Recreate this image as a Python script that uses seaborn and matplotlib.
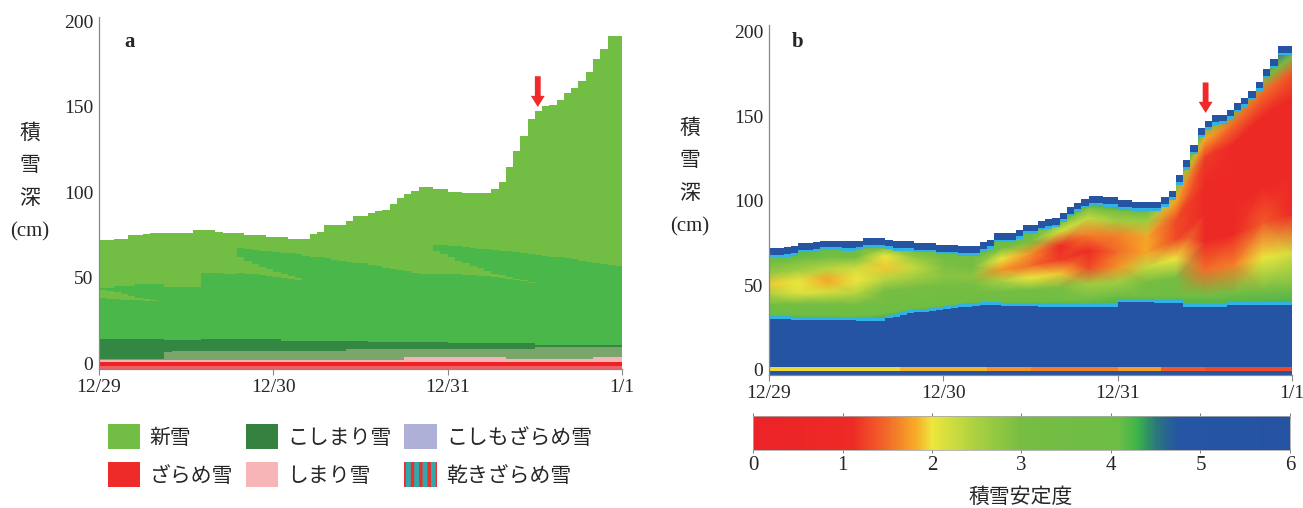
import numpy as np
import matplotlib
matplotlib.use("Agg")
import matplotlib.pyplot as plt
from matplotlib.colors import LinearSegmentedColormap, Normalize
from matplotlib.cm import ScalarMappable
from matplotlib.patches import Patch
import seaborn as sns

sns.set_style("ticks")
plt.rcParams['font.family'] = ['Liberation Serif', 'Noto Sans CJK JP']
plt.rcParams['hatch.linewidth'] = 2.5

hours = np.arange(73)
day_ticks = [0, 24, 48, 72]
day_labels = ['12/29', '12/30', '12/31', '1/1']

# total snow depth (cm), one value per hour from 12/29 0h
depth = [72, 72, 72.5, 73, 75, 75, 75.5, 76.5, 76.5, 76.5,
         76, 76, 76.5, 78, 78, 78, 77, 76, 76, 76,
         75, 75, 75, 74, 74, 74, 73, 73, 73, 75.5,
         77, 81, 81, 81, 83, 86, 86, 88, 89, 90,
         93, 96.5, 99, 101, 103, 103, 102, 102, 100.5, 100.5,
         99.5, 99.5, 99.5, 99.5, 102, 106, 115, 124, 133, 143,
         147.5, 150.5, 151, 154, 158, 161, 165, 170.5, 178, 184,
         191.5, 191.5]

# panel a: top of the older (medium green) snow
old_top = [44, 44, 45.5, 45.5, 45.5, 46.5, 46.5, 46.5, 46.5, 44.5,
           44.5, 44.5, 44.5, 44.5, 53, 53, 53, 52.5, 52.5, 67.5,
           67, 66.5, 66, 65.5, 65, 64.5, 64.5, 64, 63, 62.5,
           62, 61.5, 60.5, 60, 59.5, 59, 58.5, 57.5, 57, 56,
           55, 54.5, 54, 53, 52.5, 52, 69.5, 69, 68.5, 68.5,
           68, 67.5, 67, 67, 66.5, 66, 65.5, 65, 64.5, 64,
           63.5, 63, 62.5, 62, 61.5, 61, 60, 59.5, 59, 58,
           57.5, 57]

# new-snow wedges buried inside the older snow: (start hour, bottom, top)
wedges = [
    (0, [38, 37.8, 37.5, 37.2, 37, 36.8, 36.5, 36.3],
        [43, 42.5, 41.5, 40.5, 39.5, 38.5, 37.7, 37]),
    (19, [53, 52.5, 52, 51.5, 51, 50.5, 50, 49.5, 49],
         [62, 60, 58, 56.5, 55, 53.5, 52, 51, 50]),
    (46, [52.5, 52.5, 52, 52, 51.5, 51.5, 51, 51, 50.5, 50, 49.5, 49, 48, 47],
         [66, 64, 62, 60, 58.5, 57, 55.5, 54, 52.5, 51.5, 50.5, 49.5, 48.5, 47.5]),
]

# lower layers as (value, number of hours)
dark_vals = [14, 13.7, 14.2, 13.3, 12.7, 11.8, 10.5]
dark_runs = [9, 5, 11, 12, 11, 12, 12]
gray_vals = [2.8, 6.8, 7.2, 8.2, 9.8]
gray_runs = [9, 1, 24, 26, 12]
pink_vals = [2.2, 3.9, 2.8, 3.5]
pink_runs = [42, 14, 12, 4]
red_top = 1.0
red_low_top = -1.8

# panel b: top of the stable blue base layer (cm)
base_top = [30, 30, 30, 29.8, 29.8, 29.8, 29.8, 29.8, 29.5, 29.5,
            29.5, 29.5, 29, 29, 29, 29, 30.5, 31.5, 32.5, 33.5,
            34, 34.5, 35, 35.5, 36, 36.5, 37, 37.5, 38, 38.5,
            38.5, 38.5, 37.7, 37.7, 37.7, 37.7, 37.7, 37.5, 37.5, 37.5,
            37.5, 37.5, 37.5, 37.5, 37.5, 37.5, 37.5, 37.5, 40, 40,
            40, 40, 40, 39.4, 39.4, 39.4, 39.4, 37.5, 37.5, 37.5,
            37.5, 37.5, 37.5, 38.5, 38.5, 38.5, 38.5, 38.5, 38.5, 38.5,
            38.5, 38.5]

# stability index every 4 hours, at fractions of the height between base and surface
node_hours = np.arange(0, 73, 4)
frac = [0, 0.06, 0.2, 0.35, 0.5, 0.65, 0.8, 0.9, 0.96, 1.0]
stab = [
    [4.4, 4.1, 3.5, 2.5, 1.9, 2.7, 3.6, 4.1, 4.5, 5.0],
    [4.4, 4.0, 3.2, 2.1, 2.0, 2.6, 3.5, 4.2, 4.5, 5.0],
    [4.4, 3.9, 3.2, 2.2, 1.8, 2.4, 3.4, 4.1, 4.5, 5.0],
    [4.4, 4.0, 3.3, 2.4, 2.0, 2.2, 3.2, 4.0, 4.5, 5.0],
    [4.4, 4.0, 3.4, 3.0, 2.4, 1.9, 2.0, 3.3, 4.3, 5.0],
    [4.4, 3.8, 3.4, 3.0, 2.6, 2.3, 2.7, 3.8, 4.5, 5.0],
    [4.3, 3.9, 3.5, 3.0, 2.8, 2.9, 3.3, 3.8, 4.4, 5.0],
    [4.3, 3.9, 3.5, 3.0, 2.8, 3.0, 3.4, 3.9, 4.4, 5.0],
    [4.3, 3.8, 3.2, 2.5, 1.7, 2.0, 3.2, 3.9, 4.4, 5.0],
    [4.3, 3.7, 3.0, 2.0, 1.5, 1.7, 3.2, 3.9, 4.4, 5.0],
    [4.3, 3.7, 3.0, 1.9, 1.2, 1.1, 2.2, 3.6, 4.4, 5.0],
    [4.3, 3.7, 2.6, 1.3, 1.1, 1.6, 2.3, 3.3, 4.3, 5.0],
    [4.3, 3.8, 2.6, 1.7, 1.5, 1.6, 2.6, 3.6, 4.4, 5.0],
    [4.3, 3.8, 3.1, 2.3, 1.8, 1.8, 2.6, 3.6, 4.4, 5.0],
    [4.3, 3.8, 3.0, 2.0, 1.3, 1.3, 1.8, 2.8, 4.2, 5.0],
    [4.3, 3.4, 1.5, 1.0, 1.0, 1.0, 1.2, 1.8, 3.6, 5.0],
    [4.3, 3.3, 1.6, 1.1, 1.0, 1.0, 1.0, 1.5, 3.2, 5.0],
    [4.3, 3.3, 2.0, 1.4, 1.0, 1.0, 1.0, 1.5, 3.2, 5.0],
    [4.3, 3.4, 2.2, 1.1, 1.0, 1.0, 1.0, 1.4, 3.0, 4.8],
]
# thin layer at the ground, every 6 hours
ground_hours = np.arange(0, 73, 6)
ground_stab = [1.95, 1.95, 1.95, 1.85, 1.85, 1.7, 1.6, 1.6, 1.75, 1.4, 1.3, 1.3]

legend_labels = ['新雪', 'ざらめ雪', 'こしまり雪', 'しまり雪', 'こしもざらめ雪', '乾きざらめ雪']

c_new = '#72be44'
c_old = '#49b749'
c_dark = '#338742'
c_gray = '#7aa56b'
c_pink = '#f6b3b5'
c_red = '#ed2227'
c_red_low = '#f05f62'
c_blue = '#2554a3'
c_cyan = '#30b2e4'
c_arrow = '#ee2a2a'

cmap = LinearSegmentedColormap.from_list('stab', [
    (0 / 6, '#ec2227'), (1.1 / 6, '#ed2a26'), (1.5 / 6, '#f26b29'),
    (1.8 / 6, '#f7a828'), (2.0 / 6, '#ece63d'), (2.5 / 6, '#a9d041'),
    (3.0 / 6, '#76bd43'), (4.1 / 6, '#6dbd45'), (4.3 / 6, '#3cb44b'),
    (4.5 / 6, '#2a7a78'), (4.75 / 6, '#2555a3'), (6 / 6, '#2553a2')])


def edge(v):
    v = np.asarray(v, dtype=float)
    return np.append(v, v[-1])


def style_axis(ax, ybot, ytop):
    ax.set_xlim(0, 72)
    ax.set_ylim(ybot, ytop)
    ax.set_xticks(day_ticks)
    ax.set_xticklabels(day_labels)
    ax.set_yticks([0, 50, 100, 150, 200])
    ax.tick_params(axis='x', length=4, width=0.8, color='#888888', labelsize=14, pad=3)
    ax.tick_params(axis='y', length=0, labelsize=14, pad=4)
    sns.despine(ax=ax)
    for s in ['left', 'bottom']:
        ax.spines[s].set_color('#888888')
        ax.spines[s].set_linewidth(0.9)


def red_arrow(ax, x, y_tip, y_tail):
    ax.annotate('', xy=(x, y_tip), xytext=(x, y_tail),
                arrowprops=dict(facecolor=c_arrow, edgecolor='none', width=4.2,
                                headwidth=10, headlength=8, shrink=0))


fig = plt.figure(figsize=(13.03, 5.08), dpi=100)

# ---------------- panel a ----------------
ax = fig.add_axes([0.0760, 0.273, 0.4014, 0.693])
bot = -3.5
ax.fill_between(hours, bot, edge(depth), step='post', color=c_new, lw=0)
ax.fill_between(hours, bot, edge(old_top), step='post', color=c_old, lw=0)
for start, lo, hi in wedges:
    xs = hours[start:start + len(lo) + 1]
    ax.fill_between(xs, edge(lo), edge(hi), step='post', color=c_new, lw=0)
ax.fill_between(hours, bot, edge(np.repeat(dark_vals, dark_runs)), step='post', color=c_dark, lw=0)
ax.fill_between(hours, bot, edge(np.repeat(gray_vals, gray_runs)), step='post', color=c_gray, lw=0)
ax.fill_between(hours, bot, edge(np.repeat(pink_vals, pink_runs)), step='post', color=c_pink, lw=0)
ax.fill_between(hours, bot, red_top, color=c_red, lw=0)
ax.fill_between(hours, bot, red_low_top, color=c_red_low, lw=0)
style_axis(ax, bot, 202.5)
red_arrow(ax, 60.4, 150, 168)
ax.text(0.059, 0.929, 'a', transform=ax.transAxes, fontsize=15, fontweight='bold',
        ha='center', va='center')

handles = [
    Patch(facecolor=c_new, edgecolor='none'),
    Patch(facecolor='#ee2b29', edgecolor='none'),
    Patch(facecolor='#358140', edgecolor='none'),
    Patch(facecolor='#f7b5b7', edgecolor='none'),
    Patch(facecolor='#aeb0d8', edgecolor='none'),
    Patch(facecolor='#2fa9ab', edgecolor='#e8312f', hatch='||', lw=0),
]
fig.legend(handles, legend_labels, ncol=3, loc='upper left',
           bbox_to_anchor=(108 / 1303, 1 - 424 / 508), frameon=False,
           prop={'family': 'Noto Sans CJK JP', 'size': 15},
           handlelength=1.55, handleheight=1.5, handletextpad=0.45,
           columnspacing=0.6, labelspacing=0.6, borderpad=0, borderaxespad=0)

# ---------------- panel b ----------------
axb = fig.add_axes([0.5902, 0.2618, 0.4014, 0.689])
bb = -3
depth_arr = np.asarray(depth, dtype=float)
base_arr = np.asarray(base_top, dtype=float)
idx = np.minimum(node_hours, 71)
fr = np.asarray(frac)[:, None]
Y = base_arr[idx][None, :] + fr * (depth_arr[idx] - base_arr[idx])[None, :]
Y[0] -= 3
Y[-1] += 5
X = np.broadcast_to(node_hours, Y.shape)
axb.pcolormesh(X, Y, np.asarray(stab).T, cmap=cmap, vmin=0, vmax=6, shading='gouraud')

axb.fill_between(hours, bb, edge(base_arr), step='post', color=c_blue, lw=0)
axb.fill_between(hours, edge(base_arr), edge(base_arr + 1.8), step='post', color=c_cyan, lw=0)
dep = edge(depth_arr)
axb.fill_between(hours, dep - 5.5, dep - 4, step='post', color=c_cyan, lw=0)
axb.fill_between(hours, dep - 4, dep, step='post', color=c_blue, lw=0)
axb.fill_between(hours, dep, 210, step='post', color='white', lw=0)
axb.pcolormesh(ground_hours, [-0.5, 1.5], [ground_stab], cmap=cmap, vmin=0, vmax=6,
               shading='flat')
style_axis(axb, bb, 204)
red_arrow(axb, 60.1, 152, 170)
axb.text(0.054, 0.951, 'b', transform=axb.transAxes, fontsize=15, fontweight='bold',
         ha='center', va='center')

# y labels
for xp, yp in [(30, 183), (690, 178)]:
    fig.text(xp / 1303, 1 - yp / 508, '積\n雪\n深\n(cm)', ha='center', va='center',
             fontsize=15, linespacing=1.95)

# colour bar
cax = fig.add_axes([753 / 1303, 1 - 450 / 508, 537 / 1303, 34 / 508])
cb = fig.colorbar(ScalarMappable(norm=Normalize(0, 6), cmap=cmap), cax=cax,
                  orientation='horizontal', ticks=range(7))
cb.outline.set_edgecolor('#aaaaaa')
cb.outline.set_linewidth(0.6)
cax.tick_params(axis='x', which='both', top=True, bottom=True, direction='inout',
                length=5, width=0.6, color='#666666', labelsize=15, pad=2)
fig.text(1021 / 1303, 1 - 497 / 508, '積雪安定度', ha='center', va='center',
         fontsize=15, family=['Noto Sans CJK JP', 'DejaVu Sans'])

fig.savefig('out.png', dpi=100)
